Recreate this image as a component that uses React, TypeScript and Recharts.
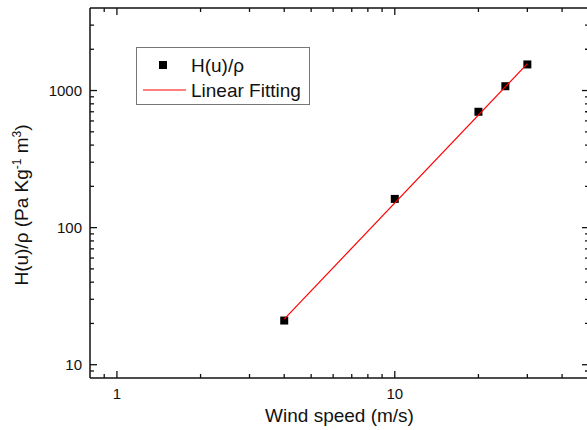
import {
  ScatterChart,
  Scatter,
  XAxis,
  YAxis,
  ZAxis,
  Legend,
  Label,
} from 'recharts'

// measured points
const windSpeed = [4, 10, 20, 25, 30]
const hOverRho = [21, 162, 700, 1075, 1550]

// linear fit (log-log) end points
const fitSpeed = [4, 30]
const fitValue = [21.5, 1570]

const xMajorTicks = [1, 10]
const xMinorTicks = [0.9, 2, 3, 4, 5, 6, 7, 8, 9, 20, 30, 40]
const yMajorTicks = [10, 100, 1000]
const yMinorTicks = [
  9, 20, 30, 40, 50, 60, 70, 80, 90, 200, 300, 400, 500, 600, 700, 800, 900,
  2000, 3000,
]

const xTicks = [...xMinorTicks, ...xMajorTicks].sort((a, b) => a - b)
const yTicks = [...yMinorTicks, ...yMajorTicks].sort((a, b) => a - b)

const points = windSpeed.map((x, i) => ({ x, y: hOverRho[i] }))
const fit = fitSpeed.map((x, i) => ({ x, y: fitValue[i] }))

const FONT = "Arial, 'Liberation Sans', sans-serif"
const INK = '#111'
const MAJOR = 7
const MINOR = 4

function BottomTick({ x, y, payload }: any) {
  const major = xMajorTicks.includes(payload.value)
  return (
    <g>
      <line x1={x} x2={x} y1={y} y2={y - (major ? MAJOR : MINOR)} stroke={INK} strokeWidth={1.3} />
      {major && (
        <text x={x} y={y + 21} textAnchor="middle" fontSize={15} fontFamily={FONT} fill={INK}>
          {payload.value}
        </text>
      )}
    </g>
  )
}

function TopTick({ x, y, payload }: any) {
  const major = xMajorTicks.includes(payload.value)
  return <line x1={x} x2={x} y1={y} y2={y + (major ? MAJOR : MINOR)} stroke={INK} strokeWidth={1.3} />
}

function LeftTick({ x, y, payload }: any) {
  const major = yMajorTicks.includes(payload.value)
  return (
    <g>
      <line x1={x} x2={x + (major ? MAJOR : MINOR)} y1={y} y2={y} stroke={INK} strokeWidth={1.3} />
      {major && (
        <text x={x - 8} y={y + 5.5} textAnchor="end" fontSize={15} fontFamily={FONT} fill={INK}>
          {payload.value}
        </text>
      )}
    </g>
  )
}

function RightTick({ x, y, payload }: any) {
  const major = yMajorTicks.includes(payload.value)
  return <line x1={x} x2={x - (major ? MAJOR : MINOR)} y1={y} y2={y} stroke={INK} strokeWidth={1.3} />
}

function XTitle({ viewBox }: any) {
  const { x, y, width } = viewBox
  return (
    <text x={x + width / 2} y={y + 44} textAnchor="middle" fontSize={19} fontFamily={FONT} fill={INK}>
      Wind speed (m/s)
    </text>
  )
}

function YTitle({ viewBox }: any) {
  const { y, height } = viewBox
  const cx = 28
  const cy = y + height / 2 + 12
  return (
    <text
      x={cx}
      y={cy}
      transform={`rotate(-90 ${cx} ${cy})`}
      textAnchor="middle"
      fontSize={19}
      fontFamily={FONT}
      fill={INK}
    >
      H(u)/ρ (Pa Kg
      <tspan dy={-7} fontSize={12}>-1</tspan>
      <tspan dy={7}> m</tspan>
      <tspan dy={-7} fontSize={12}>3</tspan>
      <tspan dy={7}>)</tspan>
    </text>
  )
}

function LegendBox() {
  return (
    <svg width={174} height={58} style={{ display: 'block' }}>
      <rect x={0.5} y={0.5} width={173} height={57} fill="#fff" stroke="#777" strokeWidth={1} />
      <rect x={23} y={14} width={8} height={8} fill="#000" />
      <text x={55} y={25} fontSize={19} fontFamily={FONT} fill={INK}>
        H(u)/ρ
      </text>
      <line x1={7} x2={50} y1={43} y2={43} stroke="#ff0000" strokeWidth={1.2} />
      <text x={55} y={50} fontSize={19} fontFamily={FONT} fill={INK}>
        Linear Fitting
      </text>
    </svg>
  )
}

export default function App() {
  return (
    <div
      style={{
        position: 'fixed',
        left: 0,
        top: 0,
        width: 587,
        height: 430,
        overflow: 'hidden',
        background: '#fff',
      }}
    >
      <ScatterChart width={600} height={430} margin={{ top: 0, right: 0, bottom: 0, left: 0 }}>
        <XAxis
          xAxisId="bottom"
          dataKey="x"
          type="number"
          scale="log"
          domain={[0.8, 50]}
          allowDataOverflow
          ticks={xTicks}
          interval={0}
          height={52}
          tickSize={0}
          tickMargin={0}
          tickLine={false}
          tick={<BottomTick />}
          axisLine={{ stroke: INK, strokeWidth: 1.5 }}
        >
          <Label content={<XTitle />} />
        </XAxis>
        <XAxis
          xAxisId="top"
          orientation="top"
          dataKey="x"
          type="number"
          scale="log"
          domain={[0.8, 50]}
          allowDataOverflow
          ticks={xTicks}
          interval={0}
          height={8}
          tickSize={0}
          tickMargin={0}
          tickLine={false}
          tick={<TopTick />}
          axisLine={{ stroke: INK, strokeWidth: 1.5 }}
        />
        <YAxis
          yAxisId="left"
          dataKey="y"
          type="number"
          scale="log"
          domain={[8, 4000]}
          allowDataOverflow
          ticks={yTicks}
          interval={0}
          width={90}
          tickSize={0}
          tickMargin={0}
          tickLine={false}
          tick={<LeftTick />}
          axisLine={{ stroke: INK, strokeWidth: 1.5 }}
        >
          <Label content={<YTitle />} />
        </YAxis>
        <YAxis
          yAxisId="right"
          orientation="right"
          dataKey="y"
          type="number"
          scale="log"
          domain={[8, 4000]}
          allowDataOverflow
          ticks={yTicks}
          interval={0}
          width={11}
          tickSize={0}
          tickMargin={0}
          tickLine={false}
          tick={<RightTick />}
          axisLine={{ stroke: INK, strokeWidth: 1.5 }}
        />
        <ZAxis range={[64, 64]} />
        <Legend
          layout="horizontal"
          verticalAlign="middle"
          align="center"
          content={<LegendBox />}
          wrapperStyle={{ position: 'absolute', left: 136, top: 47, width: 174, height: 58 }}
        />
        <Scatter
          name="H(u)/ρ"
          data={points}
          xAxisId="bottom"
          yAxisId="left"
          shape="square"
          fill="#000"
          isAnimationActive={false}
        />
        <Scatter
          name="Linear Fitting"
          data={fit}
          xAxisId="bottom"
          yAxisId="left"
          line={{ stroke: '#ff0000', strokeWidth: 1.2 }}
          shape={() => <g />}
          isAnimationActive={false}
        />
      </ScatterChart>
    </div>
  )
}
